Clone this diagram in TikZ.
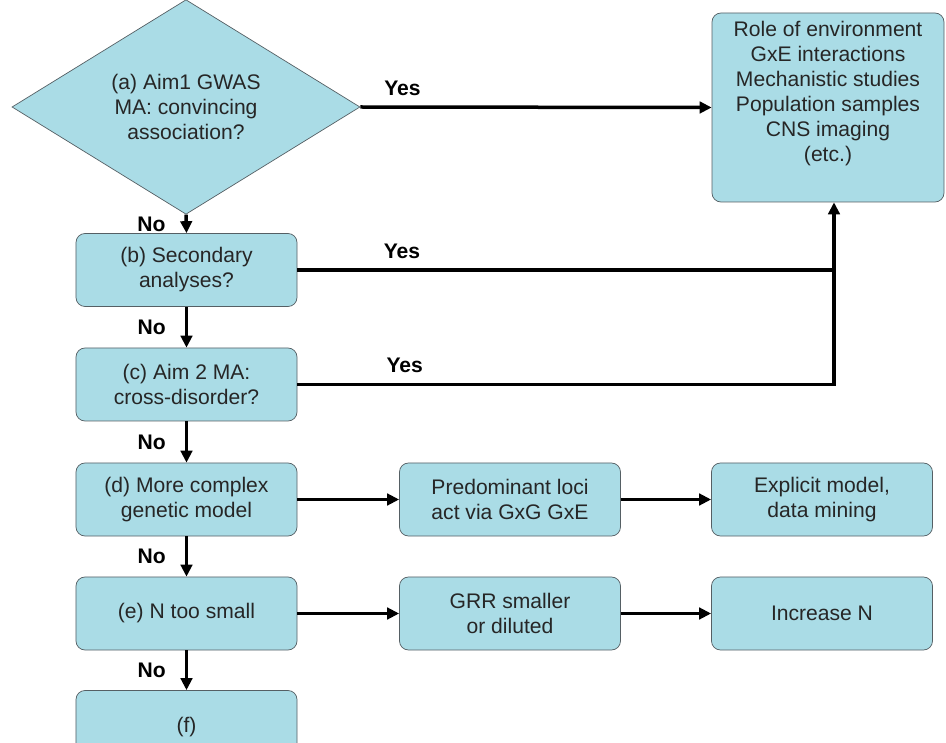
\documentclass[tikz,border=0pt]{standalone}
\usepackage{fontspec}
\setmainfont{Liberation Sans}
\usetikzlibrary{shapes.geometric,arrows.meta}
\definecolor{boxblue}{RGB}{170,220,230}
\definecolor{boxline}{RGB}{85,95,100}
\tikzset{
  box/.style={draw=boxline, fill=boxblue, rounded corners=1.8mm, minimum width=44.2mm, minimum height=14.6mm,
    inner sep=0pt, align=center, text=black!85, font=\fontsize{12}{14.2}\selectfont},
  arr/.style={line width=0.7mm, -{Triangle[length=2.4mm,width=2.3mm]}},
  lbl/.style={inner sep=0pt, font=\fontsize{12}{14}\selectfont\bfseries},
}

\begin{document}
\begin{tikzpicture}[x=0.2mm,y=-0.2mm]
  \clip (0,0) rectangle (946,743);

  \node[diamond, draw=boxline, fill=boxblue, minimum width=69.6mm, minimum height=37.2mm, inner sep=0pt,
    align=center, text=black!85, font=\fontsize{12}{14.2}\selectfont] (a) at (186,107)
    {(a) Aim1 GWAS\\MA: convincing\\association?};
  \node[box, minimum width=46.4mm, minimum height=37.8mm] (R) at (828,107.5)
    {Role of environment\\GxE interactions\\Mechanistic studies\\Population samples\\CNS imaging\\(etc.)\\[1.5mm]\mbox{}};

  \node[box] (b) at (186.5,270) {(b) Secondary\\analyses?};
  \node[box] (c) at (186.5,384.5) {(c) Aim 2 MA:\\cross-disorder?};
  \node[box] (d) at (186.5,499.5) {(d) More complex\\genetic model};
  \node[box] (e) at (186.5,613.5) {(e) N too small};
  \node[box] (f) at (186.5,727) {(f)};

  \node[box] (p) at (510,499.5) {Predominant loci\\act via GxG GxE};
  \node[box] (g) at (510,613.5) {GRR smaller\\or diluted};
  \node[box] (x) at (822,499.5) {Explicit model,\\data mining};
  \node[box] (n) at (822,613.5) {Increase N};

  \coordinate (j) at (834,384.5);

  \foreach \u/\v in {a/b, b/c, c/d, d/e, e/f} {
    \draw[arr] (\u.south) -- node[lbl, left=3.8mm] {No} (\v.north);
  }

  \draw[arr] (a.east) -- node[lbl, above=2mm, pos=0.12] {Yes} (R.west);
  \draw[line width=0.7mm] (b.east) -- node[lbl, above=2mm, pos=0.195] {Yes} (b.east -| j);
  \draw[arr] (c.east) -- node[lbl, above=2mm, pos=0.2] {Yes} (j) -- (j |- R.south);

  \foreach \u/\v in {d/p, p/x, e/g, g/n} {
    \draw[arr] (\u) -- (\v);
  }
\end{tikzpicture}
\end{document}
